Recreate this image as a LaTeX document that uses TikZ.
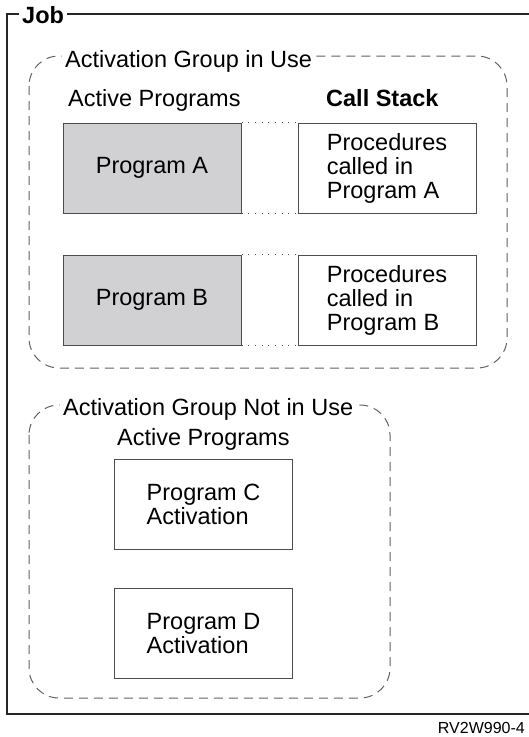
\documentclass[tikz,border=0pt]{standalone}
\usepackage{fontspec}
\setmainfont{Liberation Sans}
\usetikzlibrary{positioning}
\definecolor{progfill}{rgb}{0.82,0.82,0.83}
\definecolor{boxgray}{rgb}{0.3,0.3,0.3}
\definecolor{dashgray}{rgb}{0.38,0.38,0.38}

\begin{document}
\fontsize{23.5}{24}\selectfont
\begin{tikzpicture}[x=1pt,y=-1pt,
	prog/.style={draw=boxgray, line width=1pt, minimum width=178pt, minimum height=90pt, inner sep=0pt},
	group/.style={draw=dashgray, line width=1pt, dash pattern=on 9pt off 6pt, rounded corners=30pt},
	title/.style={anchor=base west, fill=white, inner xsep=3pt, inner ysep=2pt},
	link/.style={boxgray, line width=0.9pt, dash pattern=on 0.9pt off 5.8pt}]
	\useasboundingbox (0,0) rectangle (528,737);

	% job frame
	\draw[line width=1.2pt, black!85] (7,14) rectangle (540,714);
	\node[title, font=\bfseries] (job) at (19,23) {Job};

	% activation group in use
	\draw[group] (29,56) rectangle (507,368);
	\node[title] (inuse) at (62,67) {Activation Group in Use};
	\node[anchor=base west, inner sep=0pt] (active1) at (68,106) {Active Programs};
	\node[anchor=base west, inner sep=0pt, font=\bfseries] (stack) at (326,106) {Call Stack};

	\node[prog, fill=progfill] (progA) at (152,168) {Program A};
	\node[prog, right=56pt of progA, align=left] (procA) {Procedures\\called in\\Program A};
	\node[prog, fill=progfill, below=41pt of progA] (progB) {Program B};
	\node[prog, right=56pt of progB, align=left] (procB) {Procedures\\called in\\Program B};

	\draw[link] (progA.north east) -- (procA.north west);
	\draw[link] (progA.south east) -- (procA.south west);
	\draw[link] (progB.north east) -- (procB.north west);
	\draw[link] (progB.south east) -- (procB.south west);

	% activation group not in use
	\draw[group] (29,405) rectangle (390,698);
	\node[title] (notuse) at (60,415) {Activation Group Not in Use};
	\node[anchor=base west, inner sep=0pt] (active2) at (117,445) {Active Programs};

	\node[prog, align=left] (progC) at (203.5,504.5) {Program C\\Activation};
	\node[prog, align=left, below=38pt of progC] (progD) {Program D\\Activation};

	\node[anchor=base east, inner sep=0pt, font=\fontsize{16}{17}\selectfont] (figid) at (525,733) {RV2W990-4};
\end{tikzpicture}
\end{document}
